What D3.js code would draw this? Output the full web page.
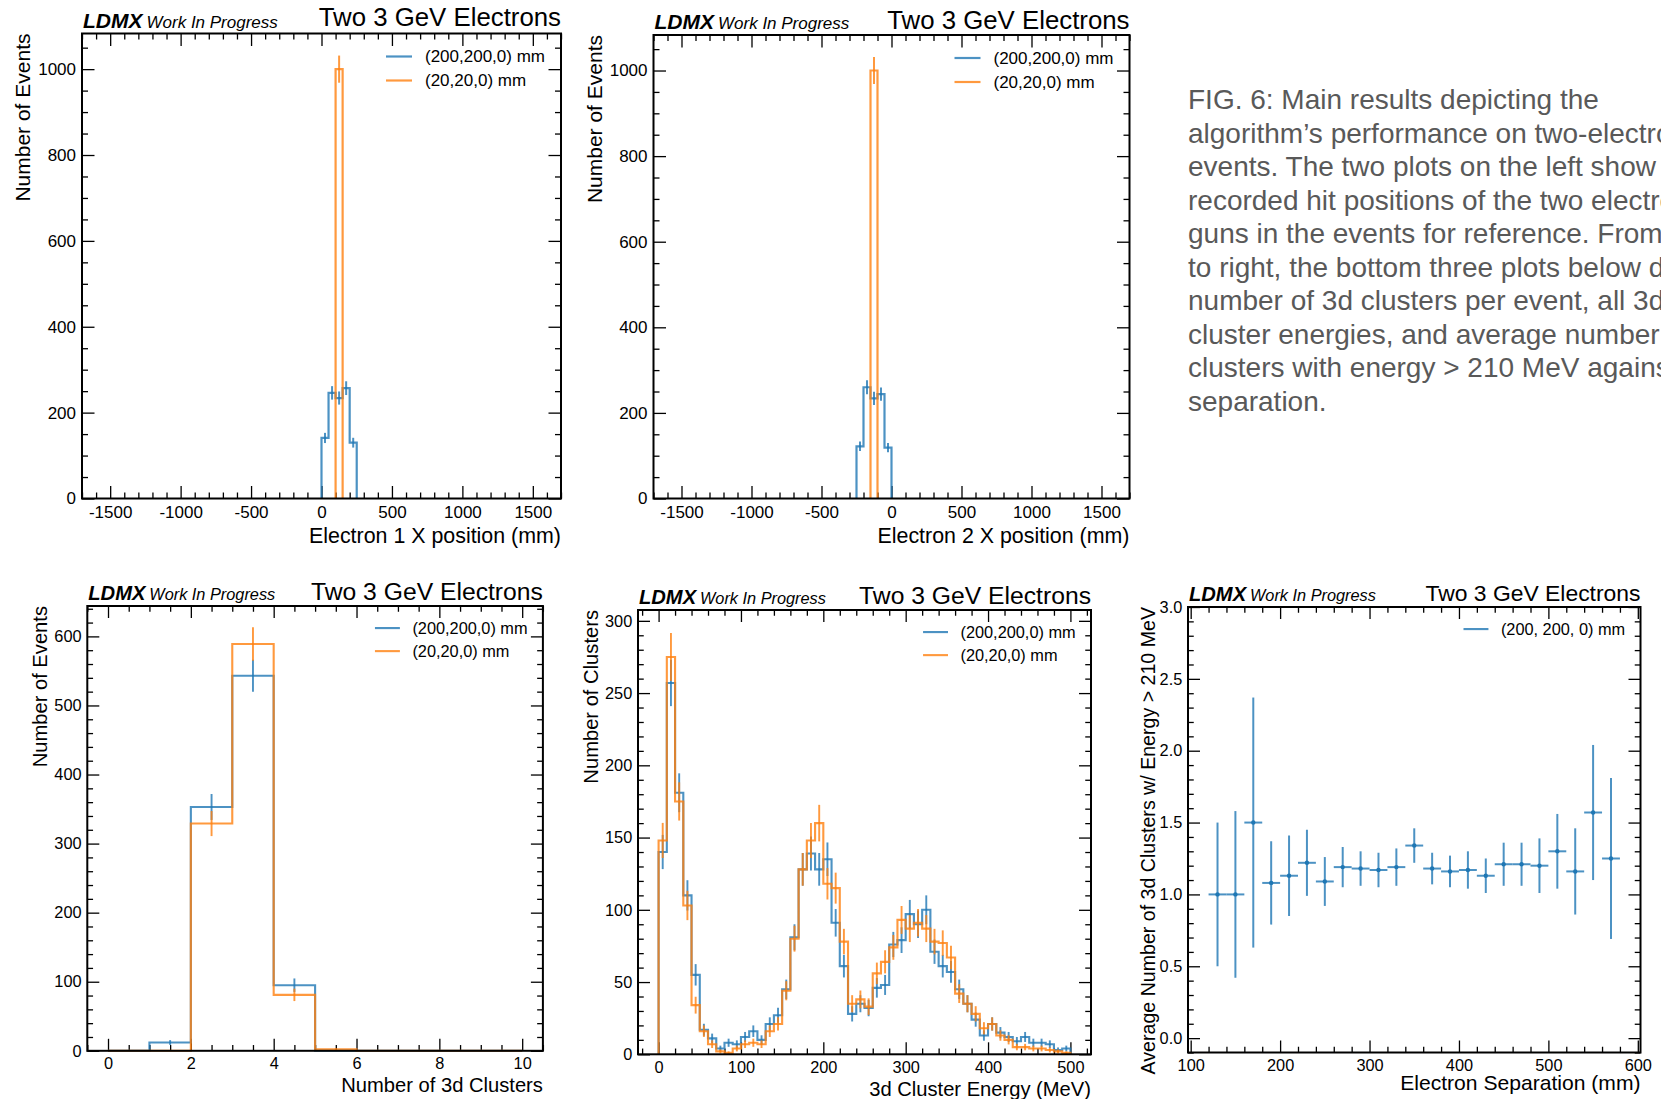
<!DOCTYPE html>
<html lang="en">
<head>
<meta charset="UTF-8">
<title>LDMX two-electron results</title>
<style>
  body { margin: 0; background: #fff; }
  svg { display: block; font-family: "Liberation Sans", Arial, Helvetica, sans-serif; }
</style>
</head>
<body>
<svg width="1661" height="1099"></svg>
<script src="https://d3js.org/d3.v7.min.js"></script>
<script>
const blue = "#1f77b4", orange = "#ff7f0e";
const labelBlue = "(200,200,0) mm", labelOrange = "(20,20,0) mm";

// electron x positions (mm), 50 mm bins
const e1BlueEdges = [0, 50, 100, 150, 200, 250];
const e1BlueCounts = [141, 246, 234, 257, 130];
const e1OrangeEdges = [100, 150];
const e1OrangeCounts = [1000];
const e2BlueEdges = [-250, -200, -150, -100, -50, 0];
const e2BlueCounts = [122, 260, 234, 244, 119];
const e2OrangeEdges = [-150, -100];
const e2OrangeCounts = [1000];

// number of 3d clusters per event
const nClusEdges = [0, 1, 2, 3, 4, 5, 6, 7, 8, 9, 10];
const nClusBlue = [0, 12, 353, 543, 95, 0, 0, 0, 0, 0];
const nClusOrange = [0, 0, 329, 589, 81, 2, 0, 0, 0, 0];

// 3d cluster energy (MeV), 10 MeV bins 0..500
const energyEdges = d3.range(0, 501, 10);
const energyBlue = [140, 257, 181, 110, 55, 17, 11, 4, 8, 7, 12, 16, 10, 21, 27, 45, 81, 128, 139, 128,
  135, 91, 61, 28, 35, 32, 46, 48, 76, 79, 97, 90, 100, 71, 61, 57, 45, 35, 24, 13,
  21, 15, 12, 9, 12, 8, 8, 7, 3, 4];
const energyOrange = [148, 275, 175, 103, 34, 16, 7, 2, 1, 4, 7, 8, 7, 16, 21, 44, 80, 128, 148, 160,
  118, 115, 78, 35, 38, 33, 56, 64, 74, 93, 87, 91, 87, 78, 77, 67, 42, 35, 28, 18,
  21, 13, 10, 5, 5, 4, 4, 3, 2, 1];

// average number of clusters > 210 MeV vs electron separation (mm)
const sepCenters = [130, 150, 170, 190, 210, 230, 250, 270, 290, 310, 330, 350, 370, 390, 410, 430, 450, 470, 490, 510, 530, 550, 570];
const sepHalfWidth = 10;
const avgClusters = [1.00, 1.00, 1.50, 1.08, 1.13, 1.22, 1.09, 1.19, 1.18, 1.17, 1.19, 1.34, 1.18, 1.16, 1.17, 1.13, 1.21, 1.21, 1.20, 1.30, 1.16, 1.57, 1.25];
const avgErr = [0.50, 0.58, 0.87, 0.29, 0.28, 0.23, 0.17, 0.14, 0.12, 0.12, 0.13, 0.12, 0.11, 0.11, 0.13, 0.12, 0.15, 0.15, 0.19, 0.26, 0.30, 0.47, 0.56];

const caption = [
  "FIG. 6: Main results depicting the",
  "algorithm\u2019s performance on two-electron",
  "events. The two plots on the left show the",
  "recorded hit positions of the two electron",
  "guns in the events for reference. From left",
  "to right, the bottom three plots below depict",
  "number of 3d clusters per event, all 3d",
  "cluster energies, and average number of 3d",
  "clusters with energy > 210 MeV against electron",
  "separation."
];

const svg = d3.select("svg");
svg.append("rect").attr("width", 1661).attr("height", 1099).attr("fill", "#fff");

function ticksEvery(dom, step) {
  const out = [];
  const k0 = Math.ceil(dom[0] / step - 1e-9), k1 = Math.floor(dom[1] / step + 1e-9);
  for (let k = k0; k <= k1; k++) out.push(+(k * step).toFixed(6));
  return out;
}

function drawPanel(p) {
  const s = p.s;
  const x = d3.scaleLinear().domain(p.xDomain).range([p.left, p.right]);
  const y = d3.scaleLinear().domain(p.yDomain).range([p.bottom, p.top]);
  const g = svg.append("g");
  const major = 12.5 * s, minor = 6 * s;
  const fmtX = p.fmtX || (d => String(d));
  const fmtY = p.fmtY || (d => String(d));
  const xMaj = ticksEvery(p.xDomain, p.xMajor);
  const xMin = ticksEvery(p.xDomain, p.xMinor).filter(v => !xMaj.includes(v));
  const yMaj = ticksEvery(p.yDomain, p.yMajor);
  const yMin = ticksEvery(p.yDomain, p.yMinor).filter(v => !yMaj.includes(v));

  const styleAxis = a => {
    a.select(".domain").remove();
    a.selectAll(".tick line").attr("stroke", "#000").attr("stroke-width", 1.3);
    a.selectAll("text").attr("font-size", 17 * s).attr("fill", "#000")
      .attr("font-family", "'Liberation Sans', Arial, sans-serif");
  };

  g.append("g").attr("transform", `translate(0,${p.bottom})`)
    .call(d3.axisBottom(x).tickValues(xMaj).tickSize(-major).tickPadding(7 * s).tickFormat(fmtX)).call(styleAxis);
  g.append("g").attr("transform", `translate(0,${p.bottom})`)
    .call(d3.axisBottom(x).tickValues(xMin).tickSize(-minor).tickFormat("")).call(styleAxis);
  g.append("g").attr("transform", `translate(0,${p.top})`)
    .call(d3.axisTop(x).tickValues(xMaj).tickSize(-major).tickFormat("")).call(styleAxis);
  g.append("g").attr("transform", `translate(0,${p.top})`)
    .call(d3.axisTop(x).tickValues(xMin).tickSize(-minor).tickFormat("")).call(styleAxis);

  g.append("g").attr("transform", `translate(${p.left},0)`)
    .call(d3.axisLeft(y).tickValues(yMaj).tickSize(-major).tickPadding(6 * s).tickFormat(fmtY)).call(styleAxis);
  g.append("g").attr("transform", `translate(${p.left},0)`)
    .call(d3.axisLeft(y).tickValues(yMin).tickSize(-minor).tickFormat("")).call(styleAxis);
  g.append("g").attr("transform", `translate(${p.right},0)`)
    .call(d3.axisRight(y).tickValues(yMaj).tickSize(-major).tickFormat("")).call(styleAxis);
  g.append("g").attr("transform", `translate(${p.right},0)`)
    .call(d3.axisRight(y).tickValues(yMin).tickSize(-minor).tickFormat("")).call(styleAxis);

  // axis labels
  g.append("text")
    .attr("transform", `translate(${p.left - p.ylabelOff},${p.top}) rotate(-90)`)
    .attr("text-anchor", "end").attr("font-size", p.ylabelSize || 21 * s).text(p.ylabel);
  g.append("text").attr("x", p.right).attr("y", p.bottom + p.xlabelOff)
    .attr("text-anchor", "end").attr("font-size", p.xlabelSize || 21 * s).text(p.xlabel);

  // experiment tag + title
  const tag = g.append("text").attr("x", p.left + 1).attr("y", p.top - 6 * s);
  tag.append("tspan").attr("font-weight", "bold").attr("font-style", "italic")
    .attr("font-size", 21 * s).text("LDMX");
  tag.append("tspan").attr("dx", 4 * s).attr("font-style", "italic")
    .attr("font-size", 17 * s).text("Work In Progress");
  g.append("text").attr("x", p.right).attr("y", p.top - (p.titleLift || 6))
    .attr("text-anchor", "end").attr("font-size", p.titleSize).text("Two 3 GeV Electrons");

  const plot = g.append("g");
  g.append("rect").attr("x", p.left).attr("y", p.top)
    .attr("width", p.right - p.left).attr("height", p.bottom - p.top)
    .attr("fill", "none").attr("stroke", "#000").attr("stroke-width", 2);

  return { x, y, plot, g, s, p };
}

function stepHist(ax, edges, counts, color) {
  const { x, y, plot, s } = ax;
  const pts = [[edges[0], 0]];
  counts.forEach((c, i) => { pts.push([edges[i], c]); pts.push([edges[i + 1], c]); });
  pts.push([edges[edges.length - 1], 0]);
  plot.append("path")
    .attr("d", d3.line().x(d => x(d[0])).y(d => y(d[1]))(pts))
    .attr("fill", "none").attr("stroke", color).attr("stroke-width", 2.2 * s)
    .attr("stroke-opacity", 0.8).attr("stroke-linejoin", "miter");
  counts.forEach((c, i) => {
    if (c <= 0) return;
    const xc = (edges[i] + edges[i + 1]) / 2, e = Math.sqrt(c);
    plot.append("line")
      .attr("x1", x(xc)).attr("x2", x(xc))
      .attr("y1", y(c - e)).attr("y2", y(c + e))
      .attr("stroke", color).attr("stroke-width", 2 * s).attr("stroke-opacity", 0.8);
  });
}

function legend(ax, entries) {
  const { p, s, g } = ax;
  const texts = entries.map((e, i) => g.append("text")
    .attr("y", p.top + (23 + 24 * i) * s)
    .attr("dominant-baseline", "central")
    .attr("font-size", 17 * s).text(e.label));
  const w = d3.max(texts, t => t.node().getComputedTextLength());
  const tx = p.right - 16 * s - w;
  texts.forEach(t => t.attr("x", tx));
  entries.forEach((e, i) => g.append("line")
    .attr("x1", tx - 39 * s).attr("x2", tx - 13 * s)
    .attr("y1", p.top + (23 + 24 * i) * s).attr("y2", p.top + (23 + 24 * i) * s)
    .attr("stroke", e.color).attr("stroke-width", 2.2 * s).attr("stroke-opacity", 0.8));
}

const twoLegend = [{ label: labelBlue, color: blue }, { label: labelOrange, color: orange }];

// top-left: electron 1
const a1 = drawPanel({ left: 82, top: 33.5, right: 561, bottom: 498.5, s: 1, titleSize: 25.8, titleLift: 8,
  xDomain: [-1700, 1700], yDomain: [0, 1083], xMajor: 500, xMinor: 100, yMajor: 200, yMinor: 50,
  xlabel: "Electron 1 X position (mm)", ylabel: "Number of Events", ylabelOff: 52, xlabelOff: 44, xlabelSize: 21.4 });
stepHist(a1, e1BlueEdges, e1BlueCounts, blue);
stepHist(a1, e1OrangeEdges, e1OrangeCounts, orange);
legend(a1, twoLegend);

// top-middle: electron 2
const a2 = drawPanel({ left: 653.5, top: 35, right: 1129.5, bottom: 498.5, s: 1, titleSize: 25.8,
  xDomain: [-1700, 1700], yDomain: [0, 1083], xMajor: 500, xMinor: 100, yMajor: 200, yMinor: 50,
  xlabel: "Electron 2 X position (mm)", ylabel: "Number of Events", ylabelOff: 52, xlabelOff: 44, xlabelSize: 21.4 });
stepHist(a2, e2BlueEdges, e2BlueCounts, blue);
stepHist(a2, e2OrangeEdges, e2OrangeCounts, orange);
legend(a2, twoLegend);

// bottom-left: number of clusters
const a3 = drawPanel({ left: 87.3, top: 606, right: 542.9, bottom: 1050.8, s: 0.96, titleSize: 24.7,
  xDomain: [-0.5, 10.5], yDomain: [0, 644], xMajor: 2, xMinor: 0.5, yMajor: 100, yMinor: 20,
  xlabel: "Number of 3d Clusters", ylabel: "Number of Events", ylabelOff: 40, xlabelOff: 41 });
stepHist(a3, nClusEdges, nClusBlue, blue);
stepHist(a3, nClusEdges, nClusOrange, orange);
legend(a3, twoLegend);

// bottom-middle: cluster energy
const a4 = drawPanel({ left: 638, top: 610, right: 1091, bottom: 1054.3, s: 0.96, titleSize: 24.7,
  xDomain: [-25, 525], yDomain: [0, 307.5], xMajor: 100, xMinor: 20, yMajor: 50, yMinor: 10,
  xlabel: "3d Cluster Energy (MeV)", ylabel: "Number of Clusters", ylabelOff: 40, xlabelOff: 42 });
stepHist(a4, energyEdges, energyBlue, blue);
stepHist(a4, energyEdges, energyOrange, orange);
legend(a4, twoLegend);

// bottom-right: average clusters vs separation
const a5 = drawPanel({ left: 1188, top: 607, right: 1640.5, bottom: 1052.5, s: 0.96, titleSize: 22.9,
  xDomain: [97, 603], yDomain: [-0.1, 3.0], xMajor: 100, xMinor: 20, yMajor: 0.5, yMinor: 0.1,
  fmtY: d3.format(".1f"),
  xlabel: "Electron Separation (mm)", ylabel: "Average Number of 3d Clusters w/ Energy > 210 MeV",
  ylabelOff: 33.5, xlabelOff: 37, xlabelSize: 21.1, ylabelSize: 19.6 });
sepCenters.forEach((c, i) => {
  const { x, y, plot } = a5;
  plot.append("line").attr("x1", x(c - sepHalfWidth)).attr("x2", x(c + sepHalfWidth))
    .attr("y1", y(avgClusters[i])).attr("y2", y(avgClusters[i]))
    .attr("stroke", blue).attr("stroke-width", 2).attr("stroke-opacity", 0.8);
  plot.append("line").attr("x1", x(c)).attr("x2", x(c))
    .attr("y1", y(avgClusters[i] - avgErr[i])).attr("y2", y(avgClusters[i] + avgErr[i]))
    .attr("stroke", blue).attr("stroke-width", 2).attr("stroke-opacity", 0.8);
  plot.append("circle").attr("cx", x(c)).attr("cy", y(avgClusters[i])).attr("r", 2.2)
    .attr("fill", blue);
});
legend(a5, [{ label: "(200, 200, 0) mm", color: blue }]);

// caption on the right (runs off the page edge as in the source figure)
svg.append("g").selectAll("text").data(caption).join("text")
  .attr("x", 1188).attr("y", (d, i) => 109.3 + i * 33.5)
  .attr("font-size", 28).attr("fill", "#595959").text(d => d);
</script>
</body>
</html>
